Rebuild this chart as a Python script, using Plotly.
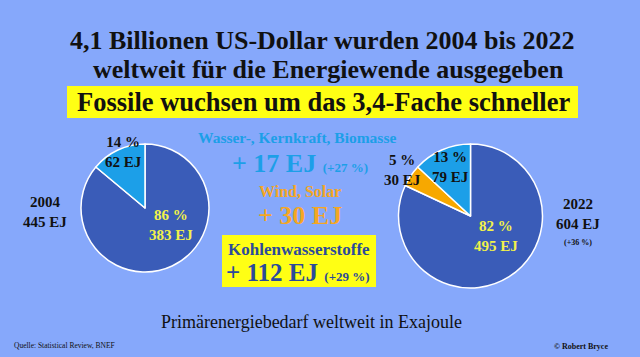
import plotly.graph_objects as go

# ---------------- data ----------------
years = ["2004", "2022"]
categories = ["Kohlenwasserstoffe", "Wind, Solar", "Wasser-, Kernkraft, Biomasse"]
values_2004 = [383, 0, 62]
values_2022 = [495, 30, 79]
slice_colors = ["#3A5CB8", "#F7A800", "#1C9FE8"]

title_lines = ["4,1 Billionen US-Dollar wurden 2004 bis 2022",
               "weltweit für die Energiewende ausgegeben",
               "Fossile wuchsen um das 3,4-Fache schneller"]
subtitle = "Primärenergiebedarf weltweit in Exajoule"
source = "Quelle: Statistical Review, BNEF"
credit = "© Robert Bryce"

W, H = 640, 357
BG = "#86A8FB"
SERIF = "Liberation Serif"


def px(x, y):
    return x / W, 1 - y / H


def dom(cx, cy, r):
    return dict(x=[(cx - r) / W, (cx + r) / W], y=[1 - (cy + r) / H, 1 - (cy - r) / H])


fig = go.Figure()

for vals, d in [(values_2004, dom(145, 208, 64)), (values_2022, dom(470.5, 216, 72))]:
    labs = [c for c, v in zip(categories, vals) if v > 0]
    vs = [v for v in vals if v > 0]
    cols = [c for c, v in zip(slice_colors, vals) if v > 0]
    fig.add_trace(go.Pie(labels=labs, values=vs, sort=False, direction="clockwise",
                         rotation=0, domain=d, textinfo="none", hoverinfo="label+value",
                         marker=dict(colors=cols, line=dict(color="white", width=1.5)),
                         showlegend=False))

ann = []


def add(text, x, y, size, color="#111111", bold=True, xanchor="center"):
    ax, ay = px(x, y)
    ann.append(dict(text=text, x=ax, y=ay, xref="paper", yref="paper", showarrow=False,
                    xanchor=xanchor, yanchor="middle",
                    font=dict(family=SERIF, size=size, color=color,
                              weight="bold" if bold else "normal")))


shapes = []


def box(x0, y0, x1, y1, color):
    shapes.append(dict(type="rect", xref="paper", yref="paper", x0=x0 / W, x1=x1 / W,
                       y0=1 - y1 / H, y1=1 - y0 / H, fillcolor=color, line=dict(width=0),
                       layer="below"))


# title
add(title_lines[0], 322, 40, 26)
add(title_lines[1], 328, 70, 26)
box(67, 86, 578, 118, "#FFFF14")
add(title_lines[2], 323, 102, 26.5)

t04, t22 = sum(values_2004), sum(values_2022)


def pct(v, t):
    return f"{round(100 * v / t)} %"


# left pie labels
add(f"{years[0]}<br>{t04} EJ", 45, 212, 15)
add(f"{pct(values_2004[2], t04)}<br>{values_2004[2]} EJ", 123, 152, 15)
add(f"{pct(values_2004[0], t04)}<br>{values_2004[0]} EJ", 171, 225, 15, color="#F2F24A")

# right pie labels
add(f"{years[1]}<br>{t22} EJ", 578, 214, 15)
add(f"(+{round(100 * (t22 - t04) / t04)} %)", 578, 242, 8)
add(f"{pct(values_2022[1], t22)}<br>{values_2022[1]} EJ", 402, 170, 15)
add(f"{pct(values_2022[2], t22)}<br>{values_2022[2]} EJ", 450, 167, 15)
add(f"{pct(values_2022[0], t22)}<br>{values_2022[0]} EJ", 496, 236, 15, color="#F2F24A")

# middle
LB, OR, DB = "#1C9FE8", "#F5A623", "#2B4A9B"
d_h = values_2022[2] - values_2004[2]
d_w = values_2022[1] - values_2004[1]
d_f = values_2022[0] - values_2004[0]
add(categories[2], 297, 137, 15.5, color=LB)
add(f"+ {d_h} EJ <span style='font-size:13px'>(+{round(100 * d_h / values_2004[2])} %)</span>",
    300, 164, 26, color=LB)
add(categories[1], 300, 191, 16, color=OR)
add(f"+ {d_w} EJ", 300, 216, 26, color=OR)
box(222, 235, 376, 287, "#FFFF14")
add(categories[0], 299, 249, 17, color=DB)
add(f"+ {d_f} EJ <span style='font-size:13px'>(+{round(100 * d_f / values_2004[0])} %)</span>",
    298, 272, 25, color=DB)

# bottom
add(subtitle, 311, 322, 18, bold=False)
add(source, 12, 345, 7.5, bold=False, xanchor="left")
add(credit, 610, 346, 8, xanchor="right")

fig.update_layout(width=W, height=H, margin=dict(l=0, r=0, t=0, b=0),
                  paper_bgcolor=BG, plot_bgcolor=BG, annotations=ann, shapes=shapes)

fig.write_html("out.html", config={"displayModeBar": False},
               post_script="document.body.style.margin='0';document.body.style.overflow='hidden';")
